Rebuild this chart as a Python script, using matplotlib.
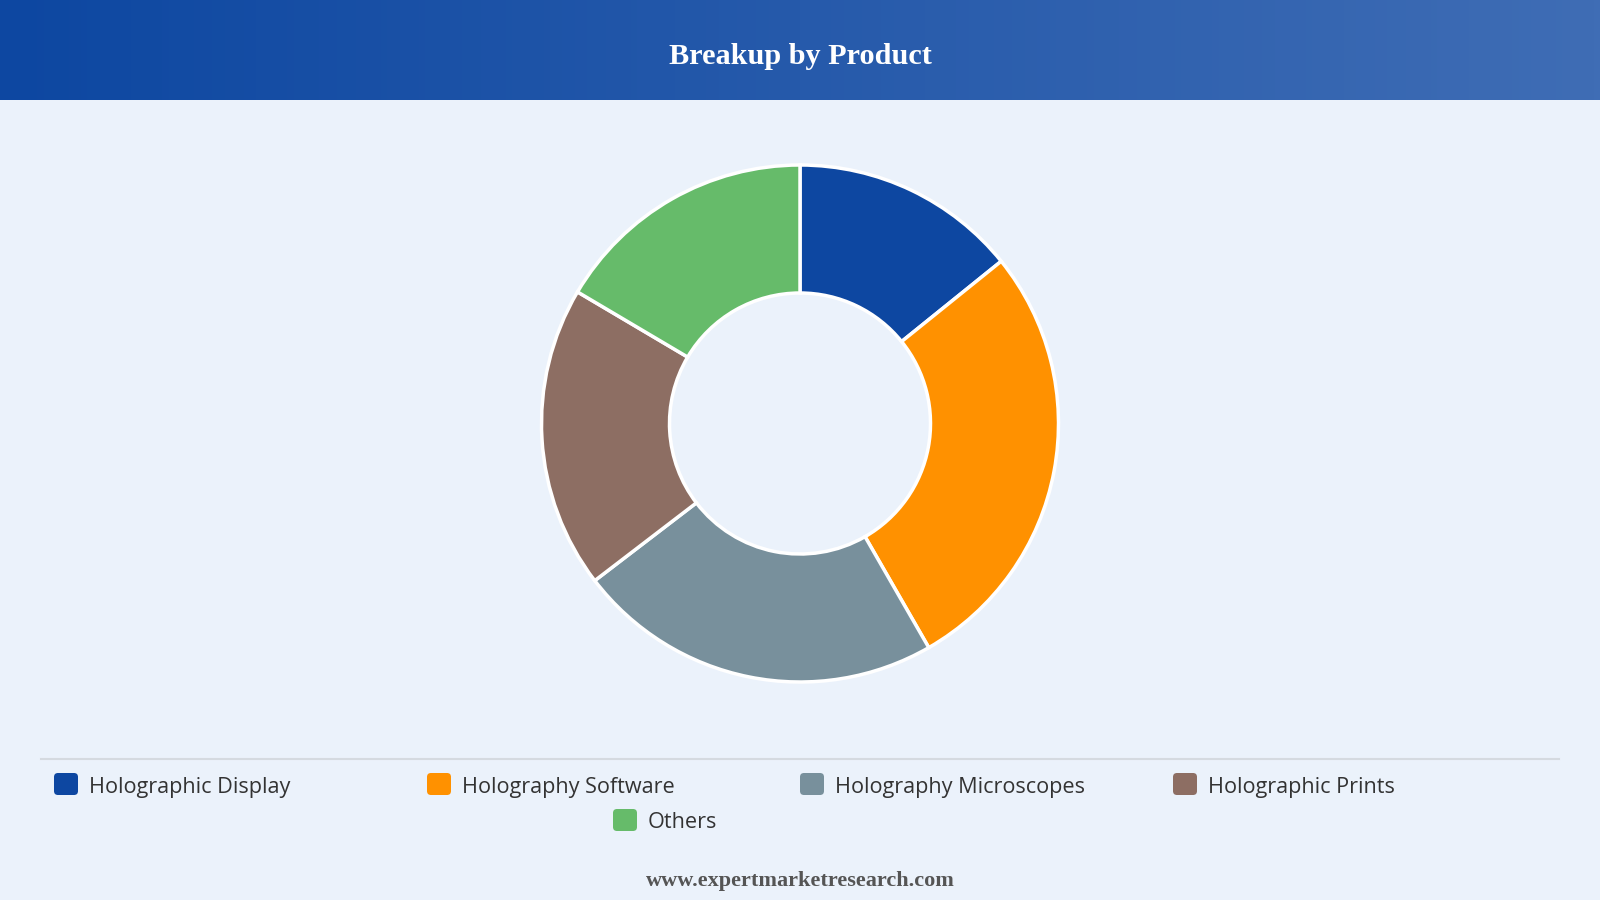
import matplotlib
matplotlib.use("Agg")
import matplotlib.pyplot as plt
import numpy as np
from matplotlib.patches import FancyBboxPatch
from matplotlib.colors import LinearSegmentedColormap

categories = ["Holographic Display", "Holography Software", "Holography Microscopes",
              "Holographic Prints", "Others"]
values = [14.2, 27.5, 22.9, 18.9, 16.5]
colors = ["#0D47A1", "#FF9100", "#78909C", "#8D6E63", "#66BB6A"]
title = "Breakup by Product"
footer = "www.expertmarketresearch.com"

W, H = 1600, 900
bg = "#EBF2FB"
fig = plt.figure(figsize=(16, 9), dpi=100, facecolor=bg)

# header gradient
hax = fig.add_axes([0, 1 - 100 / H, 1, 100 / H])
grad = np.linspace(0, 1, 512).reshape(1, -1)
cmap = LinearSegmentedColormap.from_list("hdr", ["#0D47A1", "#3F6DB5"])
hax.imshow(grad, aspect="auto", cmap=cmap, extent=[0, 1, 0, 1])
hax.set_axis_off()
hax.text(0.5, 0.44, title, ha="center", va="center", color="white",
         fontsize=21.8, fontweight="bold", family="Liberation Serif", transform=hax.transAxes)

# donut
cx, cy, R = 800, 423.5, 258.5
pad = 1.03
aw = 2 * R * pad
ax = fig.add_axes([(cx - aw / 2) / W, (H - cy - aw / 2) / H, aw / W, aw / H])
ax.set_facecolor("none")
ax.pie(values, colors=colors, startangle=90, counterclock=False, radius=1,
       wedgeprops=dict(width=1 - 130.5 / 258.5, edgecolor="white", linewidth=2.5))
ax.set_xlim(-pad, pad)
ax.set_ylim(-pad, pad)
ax.set_aspect("equal")
ax.set_axis_off()

# legend area
lax = fig.add_axes([0, 0, 1, 1])
lax.set_xlim(0, W)
lax.set_ylim(H, 0)
lax.set_axis_off()
lax.set_facecolor("none")
lax.plot([41, 1559], [759, 759], color="#D5DAE0", lw=1.5)

positions = [(54, 784), (427, 784), (800, 784), (1173, 784), (613, 820)]
for (x, y), lab, c in zip(positions, categories, colors):
    box = FancyBboxPatch((x, y - 11), 24, 22, boxstyle="round,pad=0,rounding_size=4",
                         facecolor=c, edgecolor="none")
    lax.add_patch(box)
    lax.text(x + 35, y + 3, lab, ha="left", va="center", fontsize=15.6, color="#333333",
             family="Open Sans")

lax.text(800, 881, footer, ha="center", va="center", fontsize=16, fontweight="bold",
         color="#555555", family="Liberation Serif")

fig.savefig("out.png", dpi=100, facecolor=bg)
